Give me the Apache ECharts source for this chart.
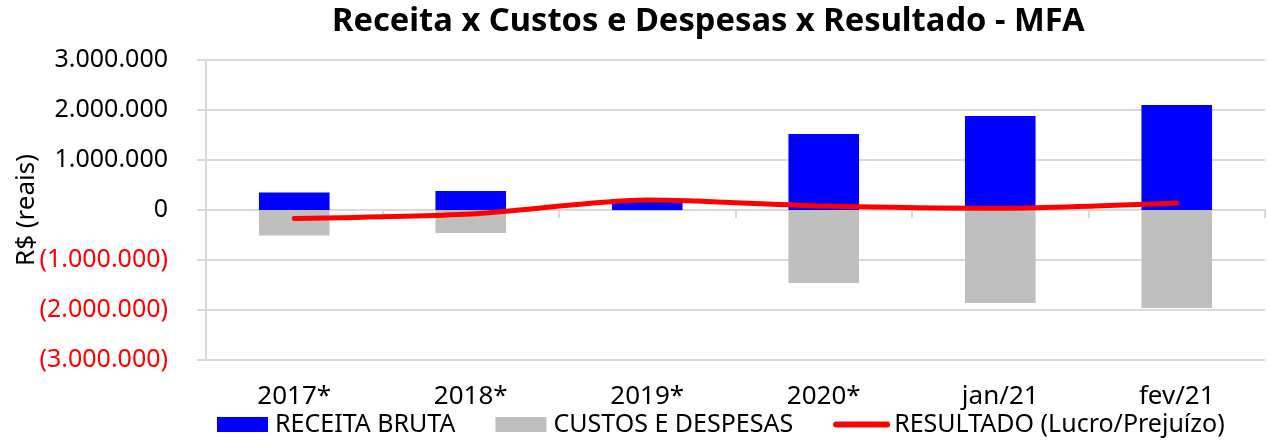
<!DOCTYPE html>
<html>
<head>
<meta charset="utf-8">
<script src="https://cdn.jsdelivr.net/npm/echarts@6/dist/echarts.min.js"></script>
<style>
  html, body { margin: 0; padding: 0; background: #fff; }
  #chart { width: 1268px; height: 445px; }
</style>
</head>
<body>
<div id="chart"></div>
<script>
  // data
  var categories = ['2017*', '2018*', '2019*', '2020*', 'jan/21', 'fev/21'];
  var receitaBruta = [350000, 380000, 220000, 1520000, 1880000, 2100000];
  var custosDespesas = [-510000, -460000, -15000, -1460000, -1860000, -1960000];
  var resultado = [-170000, -80000, 200000, 80000, 35000, 140000];

  var fontFam = '"Noto Sans", "DejaVu Sans", sans-serif';

  function fmtNum(v) {
    return String(Math.round(Math.abs(v))).replace(/\B(?=(\d{3})+(?!\d))/g, '.');
  }

  var myChart = echarts.init(document.getElementById('chart'));
  var option = {
    animation: false,
    textStyle: {fontFamily: fontFam},
    title: {
      text: 'Receita x Custos e Despesas x Resultado - MFA',
      left: 327,
      top: 0,
      textStyle: {fontSize: 32.7, fontWeight: 'bold', color: '#000', fontFamily: fontFam}
    },
    legend: {
      left: 212,
      bottom: 3,
      itemWidth: 51,
      itemHeight: 15,
      itemGap: 40,
      textStyle: {fontSize: 25, color: '#000', padding: [0, 0, 0, 2]},
      data: [
        {name: 'RECEITA BRUTA', icon: 'rect'},
        {name: 'CUSTOS E DESPESAS', icon: 'rect'},
        {name: 'RESULTADO (Lucro/Prejuízo)', itemStyle: {opacity: 0}, lineStyle: {width: 6, color: '#ff0000'}}
      ]
    },
    grid: {left: 206, right: 3, top: 60, bottom: 85, outerBoundsMode: 'none'},
    xAxis: [
      {
        type: 'category',
        data: categories,
        position: 'bottom',
        axisLine: {onZero: true, lineStyle: {color: '#d9d9d9', width: 2}},
        axisTick: {show: true, length: 8, lineStyle: {color: '#d9d9d9', width: 2}},
        axisLabel: {show: false}
      },
      {
        type: 'category',
        data: categories,
        position: 'bottom',
        axisLine: {show: false},
        axisTick: {show: false},
        axisLabel: {fontSize: 26, color: '#000', margin: 24}
      }
    ],
    yAxis: {
      type: 'value',
      min: -3000000,
      max: 3000000,
      interval: 1000000,
      name: 'R$ (reais)',
      nameLocation: 'middle',
      nameMoveOverlap: false,
      nameGap: 166,
      nameTextStyle: {fontSize: 26, color: '#000'},
      axisLine: {show: true, lineStyle: {color: '#d9d9d9', width: 2}},
      axisTick: {show: true, length: 9, lineStyle: {color: '#d9d9d9', width: 2}},
      splitLine: {lineStyle: {color: '#d9d9d9', width: 2}},
      axisLabel: {
        fontSize: 25,
        color: '#000',
        margin: 38,
        formatter: function (v) {
          if (v < 0) return '{neg|(' + fmtNum(v) + ')}';
          return fmtNum(v);
        },
        rich: {neg: {color: '#ff0000', fontSize: 25, fontFamily: fontFam}}
      }
    },
    series: [
      {
        name: 'RECEITA BRUTA',
        type: 'bar',
        stack: 'total',
        barWidth: '40%',
        itemStyle: {color: '#0000ff'},
        data: receitaBruta
      },
      {
        name: 'CUSTOS E DESPESAS',
        type: 'bar',
        stack: 'total',
        barWidth: '40%',
        itemStyle: {color: '#bfbfbf'},
        data: custosDespesas
      },
      {
        name: 'RESULTADO (Lucro/Prejuízo)',
        type: 'line',
        smooth: 0.25,
        symbol: 'none',
        lineStyle: {color: '#ff0000', width: 5, cap: 'round'},
        itemStyle: {color: '#ff0000'},
        z: 5,
        data: resultado
      }
    ]
  };
  myChart.setOption(option);
</script>
</body>
</html>
